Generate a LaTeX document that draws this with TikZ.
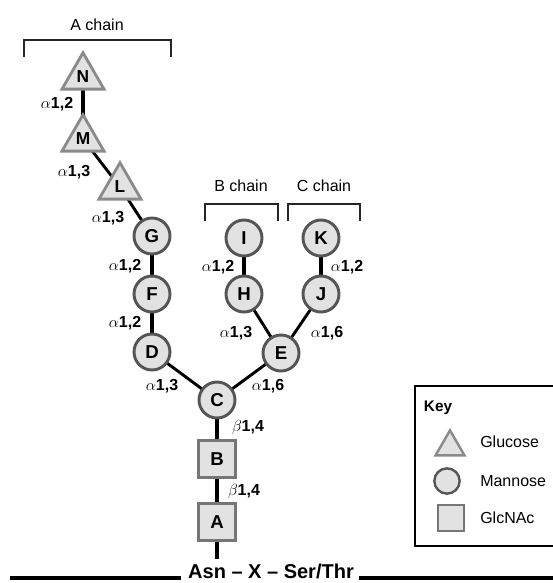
\documentclass[tikz,border=0pt]{standalone}
\usepackage{fontspec}
\setmainfont{Liberation Sans}
\usetikzlibrary{shapes.geometric,backgrounds}
\definecolor{shfill}{HTML}{E2E2E2}
\definecolor{glcdraw}{HTML}{8A8A8A}
\definecolor{mandraw}{HTML}{555555}
\definecolor{nacdraw}{HTML}{767676}
\newcommand\al{$\alpha$}
\newcommand\be{$\beta$}
\begin{document}
\begin{tikzpicture}[x=0.75pt,y=-0.75pt,
  glc/.style={regular polygon, regular polygon sides=3, minimum size=36.4pt, inner sep=0pt,
    fill=shfill, draw=glcdraw, line width=2.1pt, font=\bfseries\fontsize{13}{15}\selectfont},
  man/.style={circle, minimum size=27pt, inner sep=0pt, fill=shfill, draw=mandraw,
    line width=2.2pt, font=\bfseries\fontsize{14}{16}\selectfont},
  nac/.style={rectangle, minimum size=27.75pt, inner sep=0pt, fill=shfill, draw=nacdraw,
    line width=2.3pt, font=\bfseries\fontsize{14}{16}\selectfont},
  vlink/.style={line width=3pt},
  dlink/.style={line width=2.2pt},
  bond/.style={font=\bfseries\fontsize{12}{14}\selectfont, inner sep=0pt},
  chainlab/.style={font=\fontsize{12}{14}\selectfont, inner sep=0pt},
  bracket/.style={line width=2.2pt, color=black!85},
  keytext/.style={font=\fontsize{12}{14}\selectfont, anchor=west, inner sep=0pt}]
\useasboundingbox (0,0) rectangle (553,583);

% chain labels and brackets
\node[chainlab] (achain) at (97,25) {A chain};
\node[chainlab] (bchain) at (241,186) {B chain};
\node[chainlab] (cchain) at (324,186) {C chain};
\draw[bracket] (24,57) -- (24,40) -- (171,40) -- (171,57);
\draw[bracket] (205,221) -- (205,204) -- (278,204) -- (278,221);
\draw[bracket] (288,221) -- (288,204) -- (360,204) -- (360,221);

% residues
\node[glc] (N) at (83,77) {N};
\node[glc] (M) at (83,139) {M};
\node[glc] (L) at (120,187) {L};
\node[man] (G) at (152,236) {G};
\node[man] (F) at (152,294) {F};
\node[man] (D) at (152,352) {D};
\node[man] (C) at (217,400) {C};
\node[man] (E) at (281,353) {E};
\node[man] (H) at (244,294) {H};
\node[man] (I) at (244,238) {I};
\node[man] (J) at (321,294) {J};
\node[man] (K) at (321,238) {K};
\node[nac] (B) at (217,459) {B};
\node[nac] (A) at (217,522) {A};

% linkages
\begin{scope}[on background layer]
\draw[vlink] (N.center) -- (M.center);
\draw[dlink] (M.center) -- (L.center);
\draw[dlink] (L.center) -- (G.center);
\draw[vlink] (G.center) -- (F.center);
\draw[vlink] (F.center) -- (D.center);
\draw[dlink] (D.center) -- (C.center);
\draw[dlink] (C.center) -- (E.center);
\draw[dlink] (H.center) -- (E.center);
\draw[dlink] (J.center) -- (E.center);
\draw[vlink] (I.center) -- (H.center);
\draw[vlink] (K.center) -- (J.center);
\draw[vlink] (C.center) -- (B.center);
\draw[vlink] (B.center) -- (A.center);
\end{scope}

% bond labels
\node[bond] (bNM) at (57,104) {\al1,2};
\node[bond] (bML) at (74,172) {\al1,3};
\node[bond] (bLG) at (108,218) {\al1,3};
\node[bond] (bGF) at (125,266) {\al1,2};
\node[bond] (bFD) at (125,323) {\al1,2};
\node[bond] (bDC) at (162,386) {\al1,3};
\node[bond] (bCE) at (268,386) {\al1,6};
\node[bond] (bIH) at (218,267) {\al1,2};
\node[bond] (bKJ) at (347,267) {\al1,2};
\node[bond] (bHE) at (236,333) {\al1,3};
\node[bond] (bJE) at (327,333) {\al1,6};
\node[bond] (bCB) at (248,427) {\be1,4};
\node[bond] (bBA) at (244,491) {\be1,4};

% protein backbone
\node[font=\bfseries\fontsize{15}{17}\selectfont, inner sep=0pt] (seq) at (271,571) {Asn -- X -- Ser/Thr};
\coordinate (Aend) at (217,559);
\coordinate (lend) at (10,578);
\coordinate (rend) at (553,578);
\draw[vlink] (A.south) -- (Aend);
\draw[line width=3pt] (lend) -- ([xshift=-5pt]lend -| seq.west);
\draw[line width=3pt] ([xshift=4pt]rend -| seq.east) -- (rend);

% key
\draw[line width=0.8pt] (553,386) -- (415,386) -- (415,546) -- (553,546);
\node[font=\bfseries\fontsize{11.5}{13}\selectfont, inner sep=0pt] (keyt) at (438,408) {Key};
\node[glc, minimum size=25pt, line width=1.8pt] (kglc) at (450,447) {};
\node[man, minimum size=19pt, line width=1.8pt] (kman) at (447,481) {};
\node[nac, minimum size=19.5pt, line width=2pt] (knac) at (451,518) {};
\node[keytext] (tglc) at (480,442) {Glucose};
\node[keytext] (tman) at (480,481) {Mannose};
\node[keytext] (tnac) at (480,518) {GlcNAc};
\end{tikzpicture}
\end{document}
